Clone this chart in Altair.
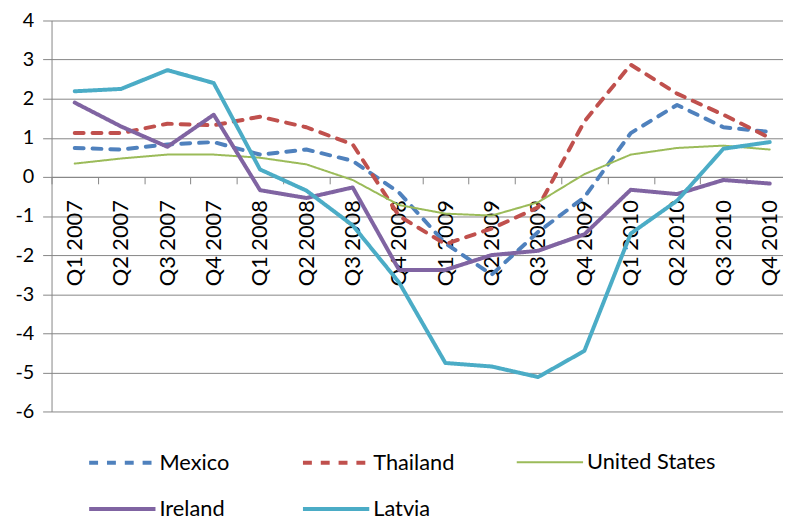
import altair as alt
import pandas as pd

quarters = ["Q1 2007", "Q2 2007", "Q3 2007", "Q4 2007",
            "Q1 2008", "Q2 2008", "Q3 2008", "Q4 2008",
            "Q1 2009", "Q2 2009", "Q3 2009", "Q4 2009",
            "Q1 2010", "Q2 2010", "Q3 2010", "Q4 2010"]
series_names = ["Mexico", "Thailand", "United States", "Ireland", "Latvia"]

mexico = [0.74, 0.70, 0.83, 0.89, 0.57, 0.70, 0.41, -0.40,
          -1.70, -2.50, -1.41, -0.52, 1.12, 1.84, 1.27, 1.15]
thailand = [1.12, 1.12, 1.36, 1.32, 1.54, 1.27, 0.83, -1.00,
            -1.72, -1.32, -0.78, 1.42, 2.87, 2.13, 1.59, 1.00]
united_states = [0.34, 0.47, 0.57, 0.57, 0.49, 0.32, -0.08, -0.72,
                 -0.94, -0.99, -0.65, 0.07, 0.57, 0.74, 0.80, 0.70]
ireland = [1.90, 1.29, 0.77, 1.59, -0.34, -0.54, -0.27, -2.38,
           -2.38, -2.00, -1.89, -1.47, -0.33, -0.44, -0.08, -0.17]
latvia = [2.19, 2.25, 2.73, 2.40, 0.19, -0.35, -1.24, -2.70,
          -4.76, -4.85, -5.12, -4.45, -1.45, -0.61, 0.72, 0.89]

y_ticks = [-6, -5, -4, -3, -2, -1, 0, 1, 2, 3, 4]

colors = ["#4F81BD", "#C0504D", "#9BBB59", "#8064A2", "#4BACC6"]
dashes = [[9, 9], [9, 9], [1, 0], [1, 0], [1, 0]]
widths = [4, 4, 2, 4, 4]

rows = []
for name, vals in zip(series_names, [mexico, thailand, united_states, ireland, latvia]):
    for q, v in zip(quarters, vals):
        rows.append({"series": name, "quarter": q, "value": v})
df = pd.DataFrame(rows)

FONT = "Lato"
GRID = "#868686"

chart = alt.Chart(df).mark_line(strokeCap="round", strokeJoin="round").encode(
    x=alt.X(
        "quarter:N", sort=quarters, title=None,
        scale=alt.Scale(domain=quarters, range=[0, 749], padding=0.5),
        axis=alt.Axis(
            orient="bottom", offset=-237, labelAngle=270, labelFont=FONT,
            labelFontSize=22, labelColor="#000000", labelPadding=16,
            tickSize=7, tickColor=GRID, tickWidth=1, tickOffset=-23.4,
            labelOffset=23.4, domainColor=GRID, domainWidth=1, grid=False,
            labelOverlap=False,
        ),
    ),
    y=alt.Y(
        "value:Q", title=None,
        scale=alt.Scale(domain=[-6, 4], nice=False, zero=False),
        axis=alt.Axis(
            values=y_ticks, labelExpr="'' + datum.value", labelFont=FONT,
            labelFontSize=20, labelColor="#000000", labelPadding=9,
            tickSize=9, tickColor=GRID, domainColor=GRID, gridColor=GRID,
            gridWidth=1, gridOpacity=1, labelOverlap=False,
        ),
    ),
    color=alt.Color(
        "series:N", title=None,
        scale=alt.Scale(domain=series_names, range=colors),
        legend=alt.Legend(
            orient="none", legendX=36, legendY=411, direction="horizontal",
            columns=3, gridAlign="all", columnPadding=7, rowPadding=-3,
            symbolType="stroke", symbolSize=4489, labelFont=FONT,
            labelFontSize=22, labelColor="#000000", labelOffset=2,
            padding=0, title=None,
        ),
    ),
    strokeDash=alt.StrokeDash(
        "series:N", title=None,
        scale=alt.Scale(domain=series_names, range=dashes),
    ),
    strokeWidth=alt.StrokeWidth(
        "series:N", title=None,
        scale=alt.Scale(type="ordinal", domain=series_names, range=widths),
    ),
).properties(
    width=739, height=395,
    autosize=alt.AutoSizeParams(type="none"),
    padding={"left": 44, "top": 10, "right": 0, "bottom": 105},
).configure_view(stroke=None)

chart.save("out.html", embed_options={"renderer": "svg", "actions": False})
